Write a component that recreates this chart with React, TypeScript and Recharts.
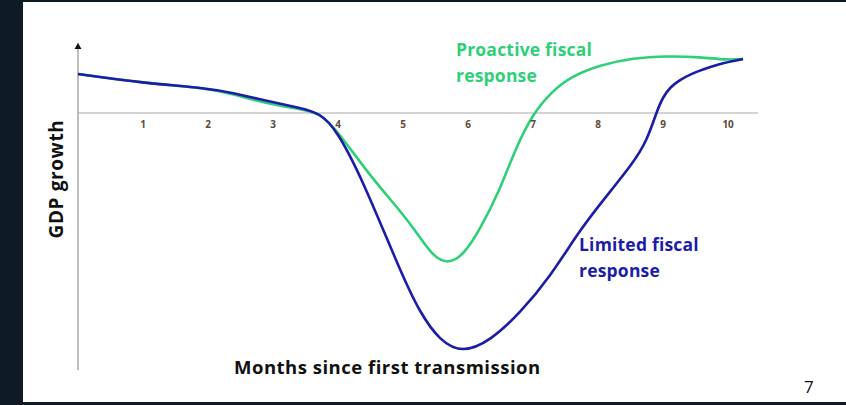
import React from 'react';
import { LineChart, Line, XAxis, YAxis, ReferenceLine, ReferenceDot } from 'recharts';

// months since first transmission -> GDP growth (arbitrary units)
const limitedMonths = [0, 1, 1.98, 2.38, 2.85, 3.42, 3.72, 3.98, 4.38, 4.95, 5.26, 5.57, 5.91, 6.34, 6.8, 7.26, 7.72, 8.08, 8.54, 8.75, 8.91, 9.0, 9.11, 9.26, 9.42, 9.72, 9.92, 10.23];
const limitedGrowth = [3.9, 3.0, 2.5, 2.0, 1.3, 0.5, 0, -1.7, -6.7, -15.7, -20, -22.8, -24.0, -22.8, -20, -16.4, -11.7, -8.7, -5, -2.8, 0.3, 1.6, 2.6, 3.3, 3.9, 4.6, 5.0, 5.4];

const proactiveMonths = [0, 1, 1.98, 2.38, 2.85, 3.42, 3.72, 3.98, 4.54, 4.95, 5.26, 5.46, 5.68, 5.92, 6.18, 6.49, 6.72, 7.0, 7.3, 7.57, 8.03, 8.54, 9.06, 9.57, 9.98, 10.23];
const proactiveGrowth = [3.9, 3.0, 2.5, 1.9, 1.0, 0.4, 0, -1.7, -6.7, -9.7, -12.4, -14.3, -15.1, -14.3, -11.7, -7.7, -3.7, 0, 2.2, 3.6, 4.8, 5.5, 5.7, 5.6, 5.3, 5.4];

const monthTicks = [1, 2, 3, 4, 5, 6, 7, 8, 9, 10];

const limitedData = limitedMonths.map((m, i) => ({ m, v: limitedGrowth[i] }));
const proactiveData = proactiveMonths.map((m, i) => ({ m, v: proactiveGrowth[i] }));

const GREEN = '#2fcf78';
const BLUE = '#1c1ca8';
const FONT = '"Open Sans", Lato, sans-serif';

const Arrow = (props: any) => {
    const { cx, cy } = props;
    return <path d={`M${cx},${cy} L${cx - 3.5},${cy + 6} L${cx + 3.5},${cy + 6} Z`} fill="#111" />;
};

const textStyle = (color: string, size: number, spacing = 0, bold = true): React.CSSProperties => ({
    position: 'absolute',
    fontFamily: FONT,
    fontSize: size,
    fontWeight: bold ? 700 : 400,
    letterSpacing: spacing,
    color,
    whiteSpace: 'nowrap',
    lineHeight: 1,
});

export default function App() {
    return (
        <div style={{ position: 'absolute', left: 0, top: 0, width: 846, height: 405, background: '#0e1a24', overflow: 'hidden' }}>
            <div style={{ position: 'absolute', left: 23, top: 2, width: 823, height: 400, background: '#ffffff' }} />
            <div style={{ position: 'absolute', left: 0, top: 0 }}>
                <LineChart width={846} height={405} margin={{ top: 43, right: 88, bottom: 35, left: 78 }}>
                    <XAxis dataKey="m" type="number" domain={[0, 10.46]} hide allowDuplicatedCategory={false} />
                    <YAxis type="number" domain={[-25.7, 7]} hide />
                    <ReferenceLine y={0} stroke="#d4d4d4" strokeWidth={2} />
                    <ReferenceLine x={0} stroke="#a8a8a8" strokeWidth={1.5} />
                    {monthTicks.map((t) => (
                        <ReferenceDot
                            key={t}
                            x={t}
                            y={0}
                            r={0}
                            fill="none"
                            stroke="none"
                            label={{ value: String(t), position: 'bottom', offset: 8, fontSize: 10, fontWeight: 700, fill: '#5a4a3a', fontFamily: FONT }}
                        />
                    ))}
                    <ReferenceDot x={0} y={7} r={3} shape={Arrow} />
                    <Line data={proactiveData} dataKey="v" type="basis" stroke={GREEN} strokeWidth={2.6} dot={false} isAnimationActive={false} />
                    <Line data={limitedData} dataKey="v" type="basis" stroke={BLUE} strokeWidth={2.6} dot={false} isAnimationActive={false} />
                </LineChart>
            </div>
            <div style={{ ...textStyle(GREEN, 17.5, 0.2), left: 456, top: 41 }}>Proactive fiscal</div>
            <div style={{ ...textStyle(GREEN, 17.5, 0.2), left: 456, top: 67 }}>response</div>
            <div style={{ ...textStyle(BLUE, 17.5, 0.2), left: 579, top: 236 }}>Limited fiscal</div>
            <div style={{ ...textStyle(BLUE, 17.5, 0.2), left: 579, top: 262 }}>response</div>
            <div style={{ ...textStyle('#111', 18.5, 0.5), left: 234, top: 358 }}>Months since first transmission</div>
            <div style={{ ...textStyle('#111', 19, 0.6), left: 56, top: 179, transform: 'translate(-50%, -50%) rotate(-90deg)' }}>GDP growth</div>
            <div style={{ ...textStyle('#111', 17, 0, false), left: 804, top: 378 }}>7</div>
        </div>
    );
}
